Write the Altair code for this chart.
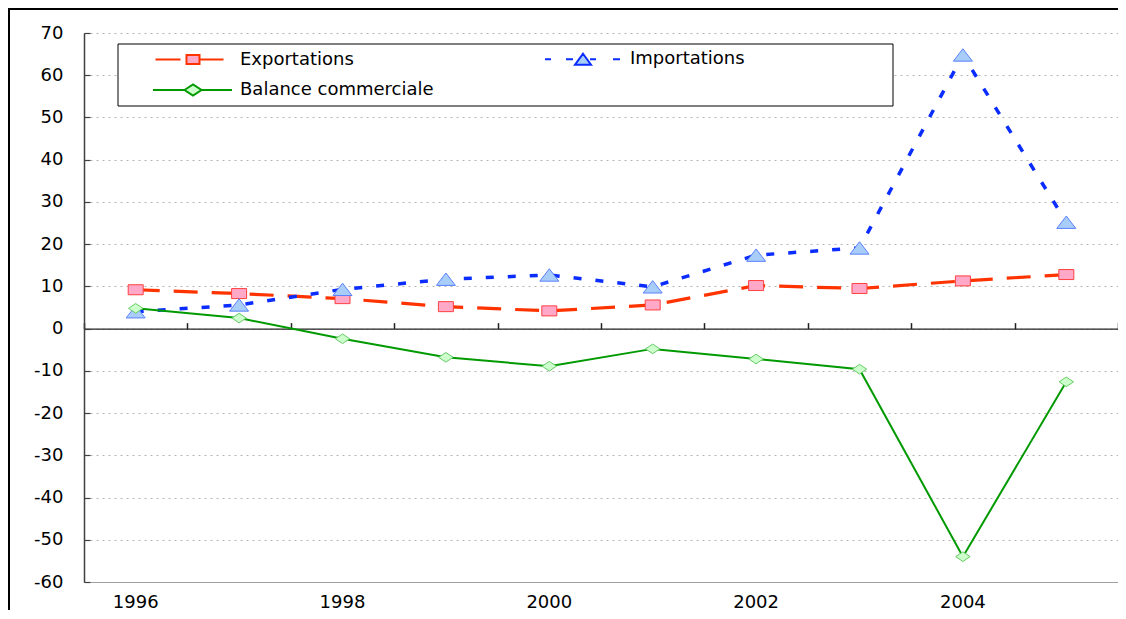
import altair as alt
import pandas as pd

# ---- data ----
years = ["1996", "1997", "1998", "1999", "2000", "2001", "2002", "2003", "2004", "2005"]
exportations = [9.2, 8.3, 7.1, 5.2, 4.2, 5.6, 10.2, 9.5, 11.3, 12.8]
importations = [4.0, 5.6, 9.3, 11.7, 12.7, 9.9, 17.4, 19.1, 64.8, 25.2]
balance = [4.8, 2.5, -2.4, -6.8, -8.9, -4.8, -7.2, -9.6, -54.0, -12.6]
series = ["Exportations", "Importations", "Balance commerciale"]
# legend fills column by column: col 1 = Exportations, Balance; col 2 = Importations
legend_order = ["Exportations", "Balance commerciale", "Importations"]
y_ticks = [-60, -50, -40, -30, -20, -10, 0, 10, 20, 30, 40, 50, 60, 70]

df = pd.DataFrame({
    "year": years * 3,
    "series": [s for s in series for _ in years],
    "value": exportations + importations + balance,
})
one = pd.DataFrame({"k": [0]})

W, H = 1034, 549
YMIN, YMAX = y_ticks[0], y_ticks[-1]
zero_off = -H * YMAX / (YMAX - YMIN)
FONT = "DejaVu Sans"

x_scale = alt.Scale(type="band", domain=years, paddingInner=0, paddingOuter=0)
y_scale = alt.Scale(domain=[YMIN, YMAX], nice=False, zero=False)

ax_x_bottom = alt.Axis(orient="bottom", title=None, ticks=False, domain=True,
                       domainColor="#a0a0a0", domainWidth=1, grid=False, labelAngle=0,
                       labelExpr="toNumber(datum.value) % 2 == 0 ? datum.label : ''",
                       labelFont=FONT, labelFontSize=18, labelColor="#000", labelPadding=11)
ax_x_zero = alt.Axis(orient="top", offset=zero_off, title=None, labels=False, ticks=True,
                     tickBand="extent", tickSize=6, tickColor="#222", tickWidth=1.5,
                     domain=True, domainColor="#222", domainWidth=1.2, grid=False)
ax_y_left = alt.Axis(orient="left", values=y_ticks, title=None, ticks=False, labelPadding=21,
                     labelExpr="'' + datum.value",
                     labelFont=FONT, labelFontSize=18, labelColor="#000", domain=True,
                     domainColor="#404040", domainWidth=1.5, grid=True, gridColor="#b4b4b4",
                     gridDash=[2, 4], gridWidth=1)
ax_y_ticks = alt.Axis(orient="right", offset=-W, values=y_ticks, title=None, labels=False,
                      ticks=True, tickSize=6, tickColor="#404040", tickWidth=1.2,
                      domain=False, grid=False)
ax_y_right = alt.Axis(orient="right", title=None, labels=False, ticks=False, domain=True,
                      domainColor="#a0a0a0", domainWidth=1, grid=False)

SQ = "M-0.75,-0.5H0.75V0.5H-0.75Z"
TRI = "M0,-0.62L0.95,0.62H-0.95Z"
DIA = "M-0.72,0L0,-0.48L0.72,0L0,0.48Z"

styles = {
    "Exportations": dict(color="#ff3300", width=3.2, dash=[24, 14], shape=SQ,
                         fill="#ffa8c8", stroke="#ff4040", ax=(ax_x_bottom, ax_y_left),
                         leg="M-3.75,0H-1.25M0.75,0H3.05M-0.65,-0.45H0.65V0.45H-0.65Z"),
    "Importations": dict(color="#0a2cff", width=3.5, dash=[8, 14], shape=TRI,
                         fill="#a8cdf8", stroke="#5a80ff", ax=(ax_x_zero, ax_y_ticks),
                         leg="M-3.8,0H-3.2M-1.7,0H-1.0M0.7,0H1.3M3.0,0H3.7M0,-0.55L0.8,0.55H-0.8Z"),
    "Balance commerciale": dict(color="#009a00", width=2, dash=None, shape=DIA,
                                fill="#ccffcc", stroke="#66cc66", ax=(None, ax_y_right),
                                leg="M-4.0,0H-0.85M0.85,0H3.9M-0.85,0L0,-0.55L0.85,0L0,0.55Z"),
}

base = alt.Chart(df)
layers = []

# outer frame: only its top and left edges are visible in the reference
frame_top = alt.Chart(one).mark_rule(stroke="#000", strokeWidth=2).encode(
    x=alt.value(-76), x2=alt.value(W + 10), y=alt.value(-24))
frame_left = alt.Chart(one).mark_rule(stroke="#000", strokeWidth=2).encode(
    x=alt.value(-75), y=alt.value(-25), y2=alt.value(H + 60))
legend_box = alt.Chart(one).mark_rect(fill="#fff", stroke="#000", strokeWidth=1).encode(
    x=alt.value(34), x2=alt.value(809), y=alt.value(11), y2=alt.value(73))
layers += [frame_top, frame_left, legend_box]

for s in series:
    st = styles[s]
    axx, axy = st["ax"]
    line_kw = dict(color=st["color"], strokeWidth=st["width"])
    if st["dash"]:
        line_kw["strokeDash"] = st["dash"]
    line = base.transform_filter(alt.datum.series == s).mark_line(**line_kw).encode(
        x=alt.X("year:O", scale=x_scale, axis=axx),
        y=alt.Y("value:Q", scale=y_scale, axis=axy),
    )
    pts = base.transform_filter(alt.datum.series == s).mark_point(
        shape=st["shape"], size=400, filled=True, fill=st["fill"], stroke=st["stroke"],
        strokeWidth=1, opacity=1).encode(
        x=alt.X("year:O", scale=x_scale, axis=None),
        y=alt.Y("value:Q", scale=y_scale, axis=None),
    )
    layers += [line, pts]

# legend-only layer (symbols combine line + marker)
leg = alt.Legend(title=None, orient="none", legendX=68, legendY=15, columns=2,
                 columnPadding=107, rowPadding=10, padding=0, symbolOffset=30,
                 labelOffset=36, labelFont=FONT, labelFontSize=18, labelColor="#000",
                 labelLimit=400, symbolSize=400, symbolStrokeWidth=2, symbolOpacity=1)
legend_layer = base.mark_point(opacity=0, filled=True, size=400).encode(
    x=alt.X("year:O", scale=x_scale, axis=None),
    y=alt.Y("value:Q", scale=y_scale, axis=None),
    shape=alt.Shape("series:N", scale=alt.Scale(domain=legend_order,
                    range=[styles[s]["leg"] for s in legend_order]), legend=leg),
    fill=alt.Fill("series:N", scale=alt.Scale(domain=legend_order,
                  range=[styles[s]["fill"] for s in legend_order]), legend=leg),
    stroke=alt.Stroke("series:N", scale=alt.Scale(domain=legend_order,
                      range=[styles[s]["color"] for s in legend_order]), legend=leg),
)
layers.append(legend_layer)

chart = alt.layer(*layers).resolve_axis(x="independent", y="independent").properties(
    width=W, height=H,
    padding={"left": 76, "top": 25, "right": 0, "bottom": 28},
    autosize=alt.AutoSizeParams(type="none"),
    background="#ffffff",
).configure_view(strokeWidth=0)

chart.save("out.html", embed_options={"renderer": "svg", "actions": False})
